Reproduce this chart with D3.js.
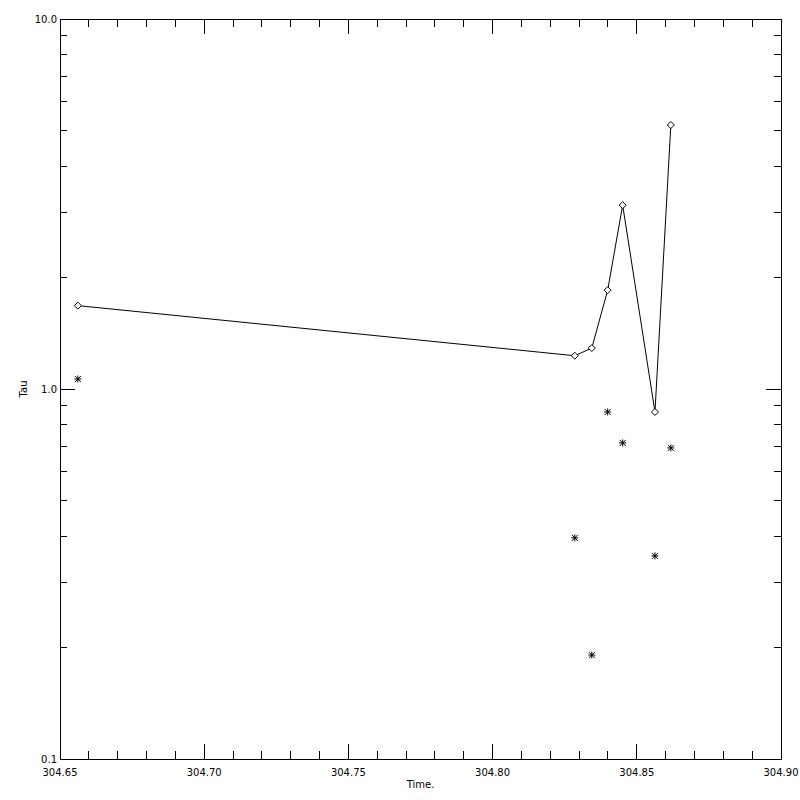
<!DOCTYPE html>
<html>
<head>
<meta charset="utf-8">
<script src="https://cdn.jsdelivr.net/npm/d3@7"></script>
<style>
  body { margin: 0; background: #fff; }
  text { font-family: "DejaVu Sans", sans-serif; font-size: 10px; fill: #000; }
</style>
</head>
<body>
<div id="chart"></div>
<script>
// Time values shared by both series
const times = [304.6562, 304.8285, 304.8344, 304.8399, 304.8451, 304.8563, 304.8618];
// Line series (diamonds)
const tauLine = [1.68, 1.23, 1.29, 1.85, 3.14, 0.867, 5.17];
// Asterisk series
const tauStars = [1.064, 0.396, 0.191, 0.867, 0.715, 0.354, 0.693];

const xMajorTicks = [304.65, 304.70, 304.75, 304.80, 304.85, 304.90];
const yMajorTicks = [0.1, 1.0, 10.0];

const W = 800, H = 800;
const margin = { top: 19, right: 19, bottom: 41, left: 60 };
const width = W - margin.left - margin.right;
const height = H - margin.top - margin.bottom;

const svg = d3.select("#chart").append("svg")
    .attr("width", W)
    .attr("height", H);

const g = svg.append("g")
    .attr("transform", `translate(${margin.left},${margin.top})`);

const x = d3.scaleLinear().domain([304.65, 304.90]).range([0, width]);
const y = d3.scaleLog().domain([0.1, 10]).range([height, 0]);

// minor ticks
const xMinor = d3.range(0, 26).map(i => 304.65 + i * 0.01).filter(v => !xMajorTicks.some(m => Math.abs(m - v) < 1e-6));
const yMinor = [];
[0.1, 1].forEach(d => { for (let k = 2; k <= 9; k++) yMinor.push(d * k); });

const axes = g.append("g").attr("stroke", "#000").attr("stroke-width", 1).attr("shape-rendering", "crispEdges");

// frame
axes.append("rect").attr("x", 0).attr("y", 0).attr("width", width).attr("height", height).attr("fill", "none");

// x ticks, bottom and top
xMajorTicks.forEach(v => {
    axes.append("line").attr("x1", x(v)).attr("x2", x(v)).attr("y1", height).attr("y2", height - 15);
    axes.append("line").attr("x1", x(v)).attr("x2", x(v)).attr("y1", 0).attr("y2", 15);
});
xMinor.forEach(v => {
    axes.append("line").attr("x1", x(v)).attr("x2", x(v)).attr("y1", height).attr("y2", height - 8);
    axes.append("line").attr("x1", x(v)).attr("x2", x(v)).attr("y1", 0).attr("y2", 8);
});

// y ticks, left and right
yMajorTicks.forEach(v => {
    axes.append("line").attr("x1", 0).attr("x2", 15).attr("y1", y(v)).attr("y2", y(v));
    axes.append("line").attr("x1", width).attr("x2", width - 15).attr("y1", y(v)).attr("y2", y(v));
});
yMinor.forEach(v => {
    axes.append("line").attr("x1", 0).attr("x2", 7).attr("y1", y(v)).attr("y2", y(v));
    axes.append("line").attr("x1", width).attr("x2", width - 7).attr("y1", y(v)).attr("y2", y(v));
});

// tick labels
g.selectAll(".xlab").data(xMajorTicks).enter().append("text")
    .attr("x", d => x(d))
    .attr("y", height + 17)
    .attr("text-anchor", "middle")
    .text(d => d.toFixed(2));

g.selectAll(".ylab").data(yMajorTicks).enter().append("text")
    .attr("x", -3)
    .attr("y", d => y(d) + 4)
    .attr("text-anchor", "end")
    .text(d => d.toFixed(1));

// axis titles
g.append("text")
    .attr("x", width / 2)
    .attr("y", height + 29)
    .attr("text-anchor", "middle")
    .text("Time.");

g.append("text")
    .attr("transform", `translate(${-33},${height / 2}) rotate(-90)`)
    .attr("text-anchor", "middle")
    .text("Tau");

// line series
const lineData = times.map((t, i) => ({ t, v: tauLine[i] }));
const starData = times.map((t, i) => ({ t, v: tauStars[i] }));

g.append("path")
    .datum(lineData)
    .attr("fill", "none")
    .attr("stroke", "#000")
    .attr("stroke-width", 1)
    .attr("d", d3.line().x(d => x(d.t)).y(d => y(d.v)));

// diamonds
g.selectAll(".diamond").data(lineData).enter().append("path")
    .attr("transform", d => `translate(${x(d.t)},${y(d.v)})`)
    .attr("d", "M0,-3.5L3.5,0L0,3.5L-3.5,0Z")
    .attr("fill", "#fff")
    .attr("stroke", "#000")
    .attr("stroke-width", 1);

// asterisks
g.selectAll(".star").data(starData).enter().append("path")
    .attr("transform", d => `translate(${x(d.t)},${y(d.v)})`)
    .attr("d", "M-3.5,0L3.5,0M0,-3.5L0,3.5M-3,-3L3,3M-3,3L3,-3")
    .attr("fill", "none")
    .attr("stroke", "#000")
    .attr("stroke-width", 1);
</script>
</body>
</html>
